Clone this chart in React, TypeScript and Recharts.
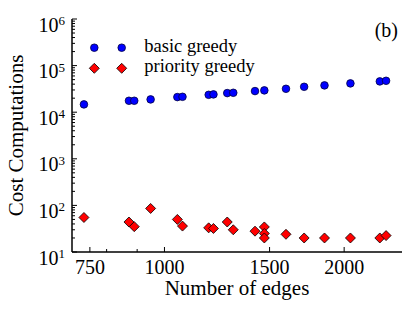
import React from "react";
import { ScatterChart, Scatter, XAxis, YAxis, Legend } from "recharts";

// values
const edgesBasic = [733, 872, 890, 948, 1051, 1072, 1186, 1208, 1274, 1304, 1418, 1470, 1598, 1714, 1854, 2049, 2295, 2351];
const basicCost = [14700, 17600, 17600, 18800, 21100, 21400, 23600, 24100, 25700, 26100, 28400, 29400, 31800, 35100, 37600, 41500, 45800, 47200];

const edgesPriority = [733, 872, 890, 948, 1051, 1072, 1186, 1208, 1274, 1304, 1418, 1470, 1470, 1470, 1598, 1714, 1854, 2049, 2295, 2351];
const priorityCost = [55, 44, 35, 86, 50, 36, 33, 32, 44, 30, 28, 34.5, 25, 20, 24, 20, 20, 20, 20, 22.5];

const xMajorTicks = [750, 1000, 1500, 2000];
const xMinorTicks = [800, 900];
const yMajorTicks = [10, 100, 1000, 10000, 100000, 1000000];
const yExponents = ["1", "2", "3", "4", "5", "6"];

const xTicks = [...xMajorTicks, ...xMinorTicks].sort((a, b) => a - b);
const yTicks: number[] = [];
yMajorTicks.forEach((t, i) => {
    yTicks.push(t);
    if (i < yMajorTicks.length - 1) {
        for (let k = 2; k <= 9; k++) yTicks.push(t * k);
    }
});

const basicData = edgesBasic.map((e, i) => ({ edges: e, cost: basicCost[i] }));
const priorityData = edgesPriority.map((e, i) => ({ edges: e, cost: priorityCost[i] }));

const FONT = "'Liberation Serif', 'Times New Roman', serif";
const AXIS = { stroke: "#000", strokeWidth: 1.5 };
const MAJOR = 5;
const MINOR = 3;

const BottomTick = ({ x, y, payload }: any) => {
    const major = xMajorTicks.includes(payload.value);
    return (
        <g>
            <line x1={x} x2={x} y1={y} y2={y - (major ? MAJOR : MINOR)} stroke="#000" strokeWidth={1} />
            {major && (
                <text x={x} y={y + 21.5} textAnchor="middle" fontSize={20} fontFamily={FONT} fill="#000">
                    {payload.value}
                </text>
            )}
        </g>
    );
};

const TopTick = ({ x, y, payload }: any) => {
    const major = xMajorTicks.includes(payload.value);
    return <line x1={x} x2={x} y1={y} y2={y + (major ? MAJOR : MINOR)} stroke="#000" strokeWidth={1} />;
};

const LeftTick = ({ x, y, payload }: any) => {
    const idx = yMajorTicks.indexOf(payload.value);
    const major = idx >= 0;
    return (
        <g>
            <line x1={x} x2={x + (major ? MAJOR : MINOR)} y1={y} y2={y} stroke="#000" strokeWidth={1} />
            {major && (
                <text x={x - 7} y={y + 12.5} textAnchor="end" fontSize={20} fontFamily={FONT} fill="#000">
                    10
                    <tspan dy={-6.5} fontSize={13}>
                        {yExponents[idx]}
                    </tspan>
                </text>
            )}
        </g>
    );
};

const RightTick = ({ x, y, payload }: any) => {
    const major = yMajorTicks.includes(payload.value);
    return <line x1={x} x2={x - (major ? MAJOR : MINOR)} y1={y} y2={y} stroke="#000" strokeWidth={1} />;
};

const BlueDot = ({ cx, cy }: any) => (
    <circle cx={cx} cy={cy} r={3.8} fill="#0000ff" stroke="#000040" strokeWidth={0.8} />
);

const RedDiamond = ({ cx, cy }: any) => {
    const s = 5;
    return (
        <polygon
            points={`${cx},${cy - s} ${cx + s},${cy} ${cx},${cy + s} ${cx - s},${cy}`}
            fill="#ff0000"
            stroke="#000"
            strokeWidth={0.8}
        />
    );
};

const LegendBox = ({ payload }: any) => (
    <svg width={330} height={70} style={{ display: "block" }}>
        {(payload || []).map((entry: any, i: number) => {
            const cy = 28.7 + i * 20.6;
            const Marker = entry.type === "diamond" ? RedDiamond : BlueDot;
            return (
                <g key={entry.value}>
                    <Marker cx={22.3} cy={cy} />
                    <Marker cx={49.7} cy={cy} />
                    <text x={72.3} y={cy + 4} fontSize={18.5} fontFamily={FONT} fill="#000">
                        {entry.value}
                    </text>
                </g>
            );
        })}
        <text x={326} y={18} textAnchor="end" fontSize={20} fontFamily={FONT} fill="#000">
            (b)
        </text>
    </svg>
);

export default function App() {
    return (
        <div style={{ position: "absolute", left: 0, top: 0, background: "#fff" }}>
            <ScatterChart width={415} height={312} margin={{ top: 19, right: 13, bottom: 0, left: 0 }}>
                <XAxis
                    dataKey="edges"
                    type="number"
                    scale="log"
                    domain={[700, 2500]}
                    allowDataOverflow
                    ticks={xTicks}
                    interval={0}
                    height={60}
                    tickSize={0}
                    tickMargin={0}
                    tickLine={false}
                    axisLine={AXIS}
                    tick={<BottomTick />}
                    label={{
                        value: "Number of edges",
                        position: "insideBottom",
                        offset: 17,
                        style: { fontSize: 21, fontFamily: FONT, fill: "#000" },
                    }}
                />
                <XAxis
                    xAxisId="top"
                    orientation="top"
                    type="number"
                    scale="log"
                    domain={[700, 2500]}
                    allowDataOverflow
                    ticks={xTicks}
                    interval={0}
                    height={0}
                    tickSize={0}
                    tickMargin={0}
                    tickLine={false}
                    axisLine={AXIS}
                    tick={<TopTick />}
                />
                <YAxis
                    dataKey="cost"
                    type="number"
                    scale="log"
                    domain={[10, 1000000]}
                    allowDataOverflow
                    ticks={yTicks}
                    interval={0}
                    width={72}
                    tickSize={0}
                    tickMargin={0}
                    tickLine={false}
                    axisLine={AXIS}
                    tick={<LeftTick />}
                    label={{
                        value: "Cost Computations",
                        angle: -90,
                        position: "insideLeft",
                        offset: 16,
                        style: { textAnchor: "middle", fontSize: 21, fontFamily: FONT, fill: "#000" },
                    }}
                />
                <YAxis
                    yAxisId="right"
                    orientation="right"
                    type="number"
                    scale="log"
                    domain={[10, 1000000]}
                    allowDataOverflow
                    ticks={yTicks}
                    interval={0}
                    width={0}
                    tickSize={0}
                    tickMargin={0}
                    tickLine={false}
                    axisLine={AXIS}
                    tick={<RightTick />}
                />
                <Legend
                    layout="vertical"
                    align="center"
                    verticalAlign="middle"
                    wrapperStyle={{ left: 72, top: 19, width: 330, height: 70 }}
                    content={<LegendBox />}
                />
                <Scatter
                    name="basic greedy"
                    data={basicData}
                    legendType="circle"
                    shape={<BlueDot />}
                    isAnimationActive={false}
                />
                <Scatter
                    name="priority greedy"
                    data={priorityData}
                    legendType="diamond"
                    shape={<RedDiamond />}
                    isAnimationActive={false}
                />
            </ScatterChart>
        </div>
    );
}
